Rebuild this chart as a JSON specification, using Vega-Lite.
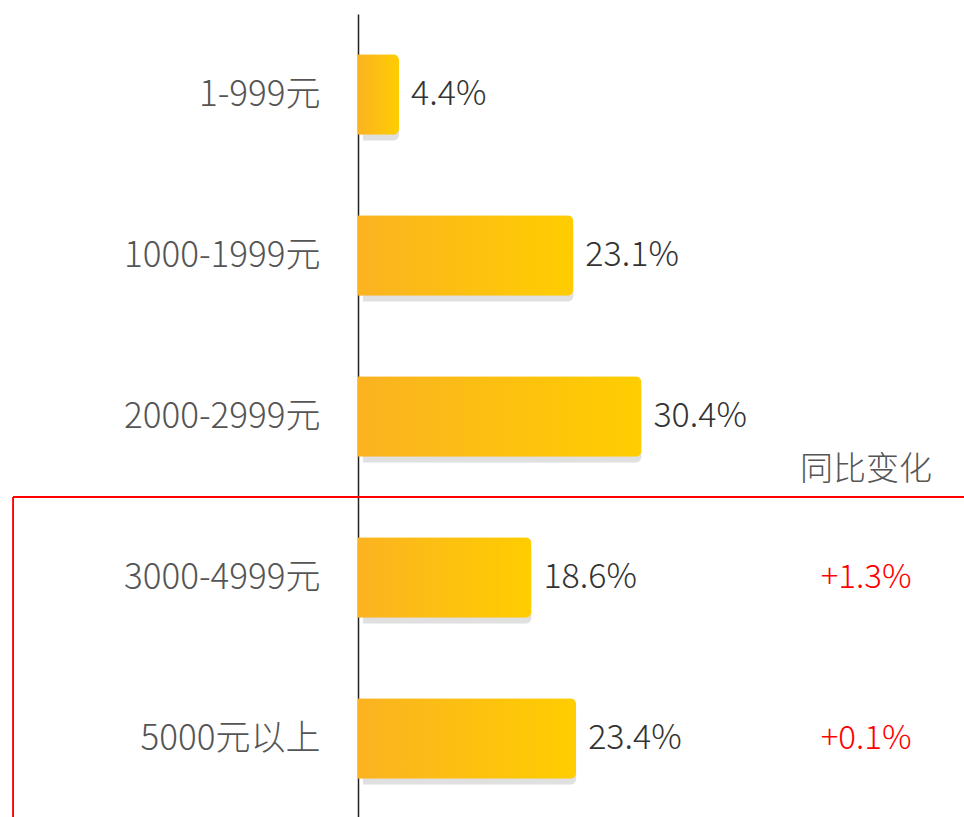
{
  "$schema": "https://vega.github.io/schema/vega-lite/v6.json",
  "width": 606,
  "height": 805,
  "autosize": {"type": "none"},
  "padding": {"left": 358, "top": 14, "right": 0, "bottom": 0},
  "background": "#ffffff",
  "config": {"view": {"stroke": null}, "font": "Noto Sans CJK SC"},
  "data": {"values": [
    {"cat": "1-999元", "value": 4.4, "label": "4.4%", "change": ""},
    {"cat": "1000-1999元", "value": 23.1, "label": "23.1%", "change": ""},
    {"cat": "2000-2999元", "value": 30.4, "label": "30.4%", "change": ""},
    {"cat": "3000-4999元", "value": 18.6, "label": "18.6%", "change": "+1.3%"},
    {"cat": "5000元以上", "value": 23.4, "label": "23.4%", "change": "+0.1%"}
  ]},
  "encoding": {
    "y": {
      "field": "cat", "type": "nominal", "sort": null,
      "scale": {"domain": ["1-999元", "1000-1999元", "2000-2999元", "3000-4999元", "5000元以上"], "paddingInner": 0, "paddingOuter": 0},
      "axis": {
        "title": null, "ticks": false, "domain": true, "domainColor": "#222", "domainWidth": 1.5,
        "labelFontSize": 35, "labelColor": "#555", "labelPadding": 38, "labelLimit": 0,
        "labelFont": "Noto Sans CJK SC", "labelFontWeight": 300
      }
    }
  },
  "layer": [
    {
      "mark": {"type": "bar", "color": "#000", "opacity": 0.12, "cornerRadiusEnd": 6, "xOffset": 5, "yOffset": 6, "height": {"band": 0.5}},
      "encoding": {"x": {"field": "value", "type": "quantitative", "scale": {"domain": [0, 64.8]}, "axis": null}}
    },
    {
      "mark": {
        "type": "bar", "cornerRadiusEnd": 6, "height": {"band": 0.5},
        "color": {"gradient": "linear", "x1": 0, "y1": 0, "x2": 1, "y2": 0,
          "stops": [{"offset": 0, "color": "#FBB321"}, {"offset": 1, "color": "#FFCD00"}]}
      },
      "encoding": {"x": {"field": "value", "type": "quantitative", "axis": null}}
    },
    {
      "mark": {"type": "text", "align": "left", "baseline": "middle", "dx": 12, "fontSize": 34, "color": "#333", "fontWeight": 300},
      "encoding": {"x": {"field": "value", "type": "quantitative", "axis": null}, "text": {"field": "label"}}
    },
    {
      "mark": {"type": "text", "align": "center", "baseline": "middle", "fontSize": 33, "color": "#ff0000", "fontWeight": 300},
      "encoding": {"x": {"datum": 54.5, "type": "quantitative", "axis": null}, "text": {"field": "change"}}
    },
    {
      "data": {"values": [{"t": "同比变化", "x": 54.5, "cat": "2000-2999元"}]},
      "mark": {"type": "text", "align": "center", "baseline": "middle", "fontSize": 33, "color": "#555", "fontWeight": 300},
      "encoding": {
        "x": {"field": "x", "type": "quantitative", "axis": null},
        "y": {"field": "cat", "type": "nominal", "sort": null, "bandPosition": 0.83},
        "text": {"field": "t"}
      }
    },
    {
      "data": {"values": [{"cat": "3000-4999元", "xa": -37, "xb": 70}]},
      "mark": {"type": "rule", "color": "#ff0000", "strokeWidth": 2, "clip": false},
      "encoding": {
        "x": {"field": "xa", "type": "quantitative", "axis": null},
        "x2": {"field": "xb"},
        "y": {"field": "cat", "type": "nominal", "sort": null, "bandPosition": 0}
      }
    },
    {
      "data": {"values": [{"cat": "3000-4999元", "xa": -37.1, "xb": -36.9}, {"cat": "5000元以上", "xa": -37.1, "xb": -36.9}]},
      "mark": {"type": "rect", "color": "#ff0000", "clip": false},
      "encoding": {
        "x": {"field": "xa", "type": "quantitative", "axis": null},
        "x2": {"field": "xb"},
        "y": {"field": "cat", "type": "nominal", "sort": null}
      }
    }
  ]
}
